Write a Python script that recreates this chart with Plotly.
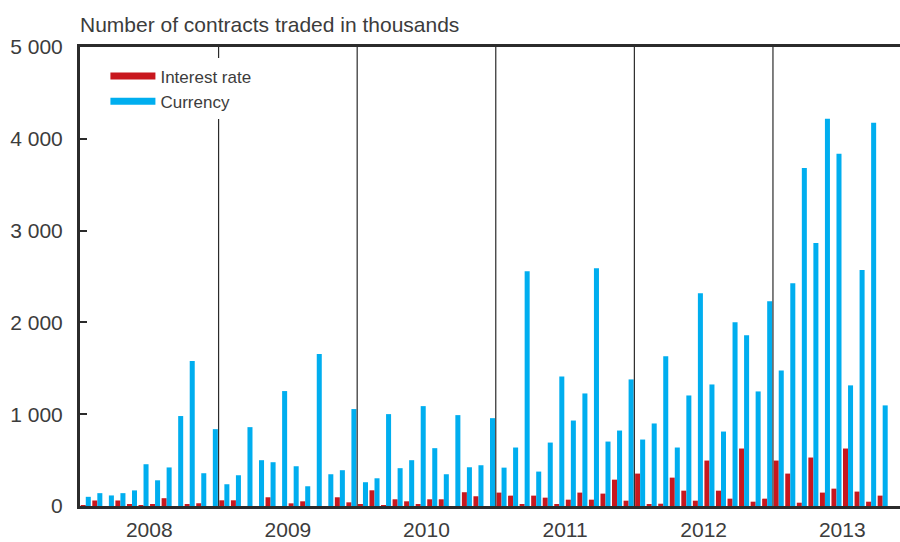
import numpy as np
import plotly.graph_objects as go

years = ["2008", "2009", "2010", "2011", "2012", "2013"]
months_per_year = [12, 12, 12, 12, 12, 10]

interest_rate = [
    10, 60, 0, 60, 20, 10, 20, 85, 0, 20, 30, 0,
    62, 62, 0, 0, 95, 0, 29, 51, 0, 0, 95, 40,
    18, 171, 8, 73, 51, 18, 73, 73, 0, 150, 106, 0,
    146, 113, 15, 113, 91, 15, 69, 146, 69, 135, 287, 58,
    353, 15, 25, 309, 167, 58, 495, 167, 80, 626, 47, 80,
    495, 353, 36, 528, 146, 189, 626, 157, 47, 113,
]
currency = [
    100, 140, 115, 140, 170, 455, 280, 420, 980, 1580, 357, 837,
    237, 335, 859, 499, 477, 1252, 433, 215, 1656, 346, 390, 1056,
    259, 302, 1001, 412, 499, 1088, 630, 346, 990, 422, 444, 957,
    418, 637, 2558, 375, 691, 1412, 931, 1226, 2591, 702, 822, 1379,
    724, 899, 1630, 637, 1204, 2318, 1324, 811, 2001, 1859, 1248, 2231,
    1477, 2427, 3683, 2864, 4218, 3836, 1314, 2570, 4175, 1096,
]

RED = "#c8171e"
BLUE = "#00aeef"
INK = "#2b2b2b"
TXT = "#3c3c3c"
FONT = "Liberation Sans"

x = np.arange(len(currency))
starts = np.cumsum([0] + months_per_year[:-1])
year_mid = [s + 5.5 for s in starts]
year_edges = [s - 0.5 for s in starts[1:]]

fig = go.Figure()
fig.add_bar(x=x, y=interest_rate, marker_color=RED, marker_line_width=0,
            name="Interest rate", showlegend=False)
fig.add_bar(x=x, y=currency, marker_color=BLUE, marker_line_width=0,
            name="Currency", showlegend=False)

# legend swatches drawn as thick lines
for name, col in [("Interest rate", RED), ("Currency", BLUE)]:
    fig.add_scatter(x=[None], y=[None], mode="lines", name=name,
                    line=dict(color=col, width=7))

for e in year_edges:
    fig.add_shape(type="line", x0=e, x1=e, y0=0, y1=5000, xref="x", yref="y",
                  line=dict(color=INK, width=1.2), layer="above")

fig.update_layout(
    width=900, height=542,
    margin=dict(l=80, r=0, t=47, b=36),
    paper_bgcolor="white", plot_bgcolor="white",
    barmode="group", bargap=0.13, bargroupgap=0,
    separators=". ",
    font=dict(family=FONT, size=21, color=TXT),
    title=dict(text="Number of contracts traded in thousands", x=0, xref="paper",
               xanchor="left", y=1 - 25 / 542, yref="container", yanchor="middle",
               font=dict(family=FONT, size=21, color=TXT)),
    legend=dict(x=0.031, y=0.975, xanchor="left", yanchor="top", bgcolor="white",
                font=dict(family=FONT, size=17, color=TXT),
                itemwidth=45, tracegroupgap=0),
)
fig.update_xaxes(range=[-0.5, len(currency) + 0.5], tickvals=year_mid, ticktext=years,
                 showline=True, linecolor=INK, linewidth=3, mirror=True,
                 showgrid=False, zeroline=False, ticks="", ticklen=0,
                 ticklabelstandoff=3)
fig.update_yaxes(range=[0, 5000], tickvals=[0, 1000, 2000, 3000, 4000, 5000],
                 tickformat=",d", showline=True, linecolor=INK, linewidth=3,
                 showgrid=False, zeroline=False, ticks="inside", ticklen=7,
                 tickwidth=2, tickcolor=INK, ticklabelstandoff=10)

fig.write_html("out.html", config={"displayModeBar": False},
               post_script="document.body.style.margin='0';")
print("saved")
